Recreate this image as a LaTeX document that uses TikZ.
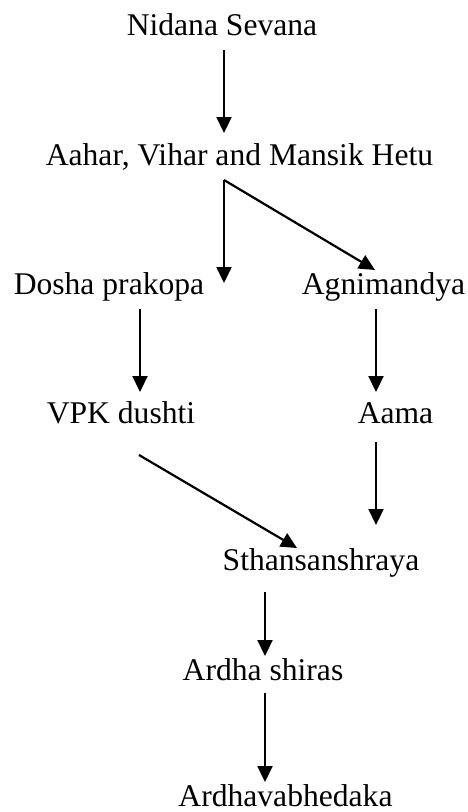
\documentclass[tikz,border=0pt]{standalone}
\usepackage{fontspec}
\setmainfont{Liberation Serif}
\usetikzlibrary{arrows.meta}
\begin{document}
\begin{tikzpicture}[x=1pt,y=-1pt,
  lbl/.style={anchor=base,inner sep=0pt,font=\fontsize{31.6}{36}\selectfont},
  arr/.style={line width=2.2pt,-{Triangle[length=16pt,width=15pt]}}]
\useasboundingbox (0,0) rectangle (468,812);
\node[lbl] (nid) at (222,35) {Nidana Sevana};
\node[lbl] (aah) at (239.5,165) {Aahar, Vihar and Mansik Hetu};
\node[lbl] (dos) at (109,294) {Dosha prakopa};
\node[lbl] (agn) at (383.5,294) {Agnimandya};
\node[lbl] (vpk) at (121,423) {VPK dushti};
\node[lbl] (aam) at (395.5,423) {Aama};
\node[lbl] (sth) at (321,570) {Sthansanshraya};
\node[lbl] (ard) at (263,680) {Ardha shiras};
\node[lbl] (abh) at (285.5,806) {Ardhavabhedaka};
% connector end points
\coordinate (nid-o) at (224,50);
\coordinate (aah-i) at (224,133);
\coordinate (aah-o) at (224,180);
\coordinate (dos-i) at (224,283);
\coordinate (agn-i) at (375,270);
\coordinate (dos-o) at (140,309);
\coordinate (vpk-i) at (140,392);
\coordinate (agn-o) at (376,309);
\coordinate (aam-i) at (376,392);
\coordinate (vpk-o) at (139,455);
\coordinate (sth-i1) at (297,548);
\coordinate (aam-o) at (376,442);
\coordinate (sth-i2) at (376,525);
\coordinate (sth-o) at (265,592);
\coordinate (ard-i) at (265,656);
\coordinate (ard-o) at (265,693);
\coordinate (abh-i) at (265,782);
\draw[arr] (nid-o) -- (aah-i);
\draw[arr] (aah-o) -- (dos-i);
\draw[arr] (aah-o) -- (agn-i);
\draw[arr] (dos-o) -- (vpk-i);
\draw[arr] (agn-o) -- (aam-i);
\draw[arr] (vpk-o) -- (sth-i1);
\draw[arr] (aam-o) -- (sth-i2);
\draw[arr] (sth-o) -- (ard-i);
\draw[arr] (ard-o) -- (abh-i);
\end{tikzpicture}
\end{document}
